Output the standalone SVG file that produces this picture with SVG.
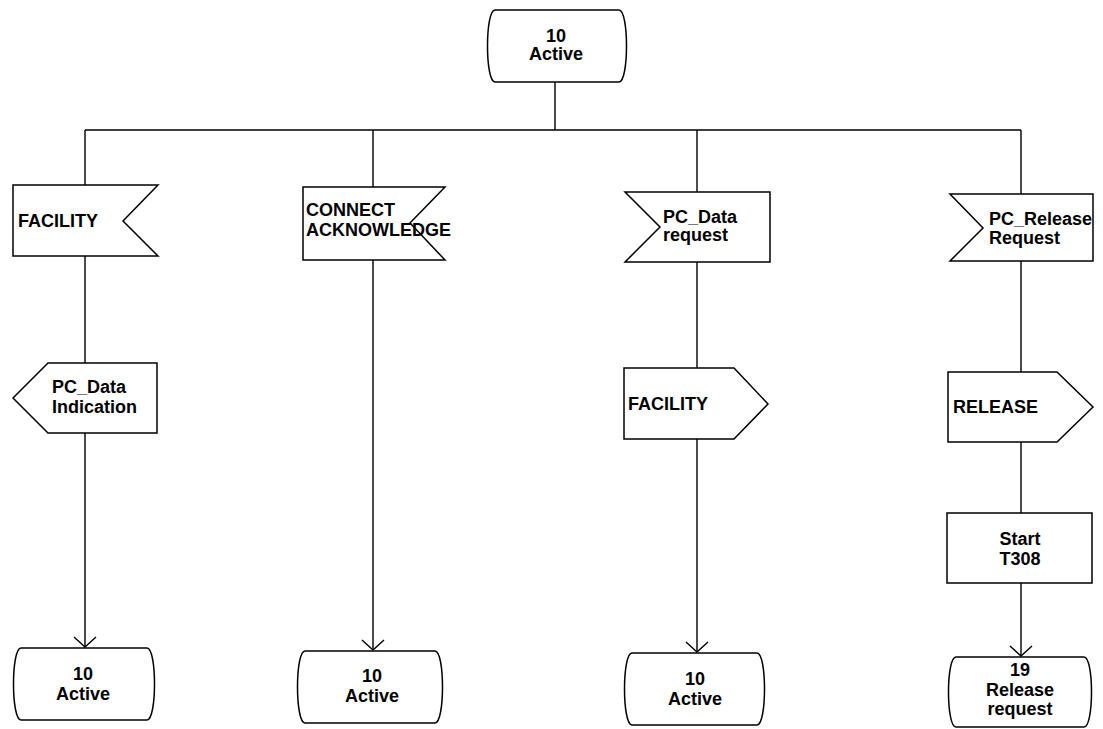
<svg xmlns="http://www.w3.org/2000/svg" width="1103" height="729" viewBox="0 0 1103 729">
<style>
.s{fill:#fff;stroke:#000;stroke-width:1.5;stroke-linejoin:miter}
.c{fill:none;stroke:#000;stroke-width:1.4}
text{font-family:"Liberation Sans",Arial,sans-serif;font-weight:bold;font-size:18px;fill:#000}
.m{text-anchor:middle}
</style>
<rect width="1103" height="729" fill="#fff"/>
<g id="connectors">
<path class="c" d="M555,82 V130 M85,130 H1021"/>
<path class="c" d="M85,130 V185 M85,256 V363 M85,433 V647"/>
<path class="c" d="M74,637 L85,647 L96,637"/>
<path class="c" d="M373,130 V187 M373,260 V650"/>
<path class="c" d="M362,640 L373,650 L384,640"/>
<path class="c" d="M697,130 V192 M697,262 V368 M697,439 V652"/>
<path class="c" d="M686,642 L697,652 L708,642"/>
<path class="c" d="M1021,130 V194 M1021,261 V372 M1021,442 V513 M1021,583 V656"/>
<path class="c" d="M1010,646 L1021,656 L1032,646"/>
</g>
<g id="state-top">
<path class="s" d="M495,10 H619 C629,10 629,82 619,82 H495 C485,82 485,10 495,10 Z"/>
<text class="m" x="556" y="42">10</text>
<text class="m" x="556" y="60">Active</text>
</g>
<g id="in-facility">
<path class="s" d="M13,185 H158 L123,221 L158,256 H13 Z"/>
<text x="18" y="227">FACILITY</text>
</g>
<g id="in-connect-ack">
<path class="s" d="M303,187 H445 L410,223 L445,260 H303 Z"/>
<text x="306" y="216">CONNECT</text>
<text x="306" y="236">ACKNOWLEDGE</text>
</g>
<g id="in-pc-data-request">
<path class="s" d="M625,192 H770 V262 H625 L660,227 Z"/>
<text x="663" y="223">PC_Data</text>
<text x="663" y="241">request</text>
</g>
<g id="in-pc-release-request">
<path class="s" d="M950,194 H1093 V261 H950 L983,228 Z"/>
<text x="989" y="225">PC_Release</text>
<text x="989" y="244">Request</text>
</g>
<g id="out-pc-data-indication">
<path class="s" d="M48,363 H157 V433 H48 L13,398 Z"/>
<text x="52" y="393">PC_Data</text>
<text x="52" y="413">Indication</text>
</g>
<g id="out-facility">
<path class="s" d="M624,368 H734 L768,404 L734,439 H624 Z"/>
<text x="628" y="410">FACILITY</text>
</g>
<g id="out-release">
<path class="s" d="M948,372 H1057 L1093,407 L1057,442 H948 Z"/>
<text x="953" y="413">RELEASE</text>
</g>
<g id="task-start-t308">
<rect class="s" x="947" y="513" width="145" height="70"/>
<text class="m" x="1020" y="545">Start</text>
<text class="m" x="1020" y="565">T308</text>
</g>
<g id="state-end-1">
<path class="s" d="M21,648 H147 C157,648 157,720 147,720 H21 C11,720 11,648 21,648 Z"/>
<text class="m" x="83" y="680">10</text>
<text class="m" x="83" y="700">Active</text>
</g>
<g id="state-end-2">
<path class="s" d="M305,651 H435 C445,651 445,723 435,723 H305 C295,723 295,651 305,651 Z"/>
<text class="m" x="372" y="682">10</text>
<text class="m" x="372" y="702">Active</text>
</g>
<g id="state-end-3">
<path class="s" d="M632,653 H757 C767,653 767,725 757,725 H632 C622,725 622,653 632,653 Z"/>
<text class="m" x="695" y="685">10</text>
<text class="m" x="695" y="705">Active</text>
</g>
<g id="state-end-4">
<path class="s" d="M956,657 H1084 C1094,657 1094,727 1084,727 H956 C946,727 946,657 956,657 Z"/>
<text class="m" x="1020" y="676">19</text>
<text class="m" x="1020" y="696">Release</text>
<text class="m" x="1020" y="715">request</text>
</g>
</svg>
